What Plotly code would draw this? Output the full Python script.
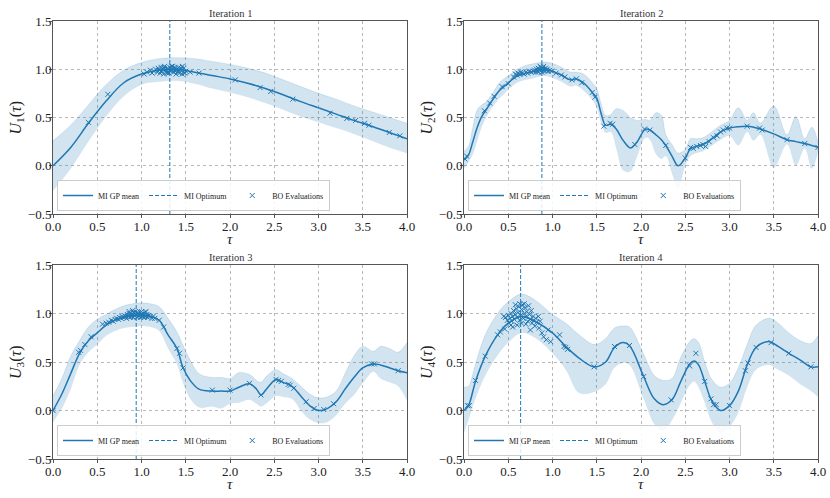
import plotly.graph_objects as go

blue = "#1f77b4"
band = "rgba(31,119,180,0.2)"
font = "Liberation Serif, DejaVu Serif, serif"

# iteration 1
tau1 = [0.0, 0.2, 0.4, 0.6, 0.8, 1.0, 1.2, 1.4, 1.6, 1.8, 2.0, 2.2, 2.4, 2.6, 2.8, 3.0, 3.2, 3.4, 3.6, 3.8, 4.0]
mean1 = [0.0, 0.19, 0.44, 0.67, 0.86, 0.95, 0.99, 1.0, 0.97, 0.935, 0.9, 0.855, 0.8, 0.735, 0.665, 0.6, 0.535, 0.47, 0.41, 0.345, 0.28]
upper1 = [0.26, 0.42, 0.63, 0.84, 0.99, 1.07, 1.11, 1.12, 1.11, 1.08, 1.05, 1.01, 0.96, 0.89, 0.82, 0.75, 0.69, 0.62, 0.56, 0.5, 0.44]
lower1 = [-0.26, -0.03, 0.25, 0.51, 0.72, 0.84, 0.87, 0.88, 0.85, 0.8, 0.76, 0.71, 0.65, 0.58, 0.51, 0.45, 0.39, 0.33, 0.26, 0.19, 0.13]
eval1 = [(0.4, 0.45), (0.62, 0.74), (1.03, 0.95), (1.06, 0.97), (1.1, 0.99), (1.12, 0.96), (1.14, 0.98),
         (1.16, 1.0), (1.18, 0.97), (1.19, 1.01), (1.2, 0.99), (1.21, 0.96), (1.22, 1.02), (1.23, 0.98),
         (1.24, 1.0), (1.25, 0.95), (1.26, 1.03), (1.27, 0.99), (1.28, 0.97), (1.29, 1.01), (1.3, 1.0),
         (1.31, 0.96), (1.32, 1.02), (1.33, 0.98), (1.34, 1.0), (1.35, 1.03), (1.36, 0.97), (1.37, 0.99),
         (1.38, 1.01), (1.39, 0.95), (1.4, 1.0), (1.41, 0.98), (1.42, 1.02), (1.43, 0.96), (1.44, 1.0),
         (1.45, 0.99), (1.46, 1.03), (1.47, 0.97), (1.48, 1.01), (1.49, 0.96), (1.5, 0.98), (1.22, 0.98),
         (1.26, 1.01), (1.3, 0.97), (1.34, 1.03), (1.38, 0.98), (1.42, 1.0), (1.46, 0.95), (1.25, 1.02),
         (1.29, 0.96), (1.33, 0.99), (1.37, 1.02), (1.41, 0.97), (1.45, 1.01), (1.55, 0.97), (1.65, 0.96),
         (2.06, 0.89), (2.34, 0.81), (2.46, 0.77), (2.71, 0.69), (3.13, 0.545), (3.32, 0.49), (3.42, 0.47),
         (3.52, 0.44), (3.57, 0.42), (3.8, 0.345), (3.92, 0.31)]

# iteration 2
tau2 = [0.0, 0.05, 0.1, 0.15, 0.2, 0.25, 0.3, 0.35, 0.4, 0.45, 0.5, 0.6, 0.7, 0.8, 0.9, 1.0, 1.1, 1.2, 1.27,
        1.35, 1.45, 1.5, 1.55, 1.6, 1.66, 1.72, 1.8, 1.88, 1.95, 2.05, 2.1, 2.17, 2.23, 2.28, 2.35, 2.42, 2.5,
        2.56, 2.62, 2.7, 2.8, 2.9, 3.0, 3.1, 3.2, 3.27, 3.35, 3.5, 3.65, 3.75, 3.85, 3.93, 4.0]
mean2 = [0.06, 0.11, 0.25, 0.4, 0.51, 0.58, 0.65, 0.72, 0.78, 0.82, 0.86, 0.93, 0.96, 0.98, 1.0, 0.98, 0.94,
         0.89, 0.9, 0.86, 0.76, 0.7, 0.54, 0.42, 0.43, 0.38, 0.26, 0.185, 0.24, 0.38, 0.37, 0.32, 0.27, 0.21,
         0.1, 0.0, 0.08, 0.18, 0.2, 0.22, 0.28, 0.35, 0.39, 0.405, 0.41, 0.4, 0.38, 0.33, 0.27, 0.25, 0.23,
         0.21, 0.19]
upper2 = [0.15, 0.2, 0.4, 0.58, 0.63, 0.66, 0.72, 0.79, 0.86, 0.9, 0.93, 1.0, 1.04, 1.06, 1.075, 1.06, 1.02,
          0.97, 0.97, 0.95, 0.86, 0.8, 0.64, 0.52, 0.53, 0.59, 0.57, 0.5, 0.47, 0.48, 0.47, 0.55, 0.52, 0.32,
          0.22, 0.13, 0.17, 0.28, 0.28, 0.29, 0.35, 0.42, 0.47, 0.6, 0.47, 0.55, 0.44, 0.62, 0.32, 0.51, 0.28,
          0.4, 0.24]
lower2 = [-0.03, 0.04, 0.12, 0.26, 0.4, 0.5, 0.58, 0.64, 0.7, 0.74, 0.79, 0.86, 0.89, 0.91, 0.93, 0.91, 0.87,
          0.82, 0.83, 0.78, 0.68, 0.6, 0.44, 0.34, 0.35, 0.18, -0.05, -0.06, 0.08, 0.29, 0.27, 0.12, 0.07, 0.1,
          -0.08, -0.23, 0.0, 0.1, 0.13, 0.15, 0.21, 0.27, 0.31, 0.21, 0.35, 0.26, 0.32, -0.02, 0.22, 0.0, 0.18,
          -0.03, 0.14]
eval2 = [(0.01, 0.07), (0.03, 0.1), (0.23, 0.57), (0.29, 0.65), (0.34, 0.72), (0.43, 0.82), (0.5, 0.85),
         (0.56, 0.92), (0.58, 0.95), (0.6, 0.94), (0.61, 0.96), (0.63, 0.95), (0.64, 0.97), (0.66, 0.96),
         (0.68, 0.95), (0.7, 0.97), (0.72, 0.96), (0.74, 0.98), (0.76, 0.97), (0.78, 0.98), (0.8, 0.99),
         (0.81, 0.97), (0.82, 1.0), (0.83, 0.98), (0.84, 1.01), (0.85, 0.99), (0.86, 1.0), (0.87, 1.02),
         (0.88, 0.99), (0.89, 1.01), (0.9, 1.0), (0.91, 0.98), (0.92, 1.01), (0.93, 0.99), (0.94, 1.0),
         (0.95, 0.98), (0.97, 0.99), (0.99, 0.98), (0.84, 0.97), (0.88, 0.97), (0.9, 1.03), (0.86, 1.03),
         (1.04, 0.96), (1.1, 0.94), (1.14, 0.92), (1.22, 0.89), (1.27, 0.9), (1.33, 0.86), (1.45, 0.76),
         (1.48, 0.71), (1.58, 0.41), (1.65, 0.44), (1.68, 0.43), (1.93, 0.22), (2.04, 0.38), (2.1, 0.37),
         (2.28, 0.21), (2.5, 0.08), (2.56, 0.19), (2.59, 0.18), (2.63, 0.2), (2.67, 0.21), (2.7, 0.22),
         (2.73, 0.2), (2.77, 0.25), (2.82, 0.29), (2.86, 0.31), (2.9, 0.35), (2.93, 0.37), (2.97, 0.39),
         (3.0, 0.39), (3.2, 0.41), (3.34, 0.39), (3.37, 0.37), (3.65, 0.27), (3.85, 0.23), (4.0, 0.19)]

# iteration 3
tau3 = [0.0, 0.1, 0.2, 0.3, 0.4, 0.5, 0.6, 0.7, 0.8, 0.9, 1.0, 1.1, 1.2, 1.3, 1.4, 1.47, 1.55, 1.65, 1.8,
        1.9, 2.0, 2.1, 2.22, 2.3, 2.35, 2.42, 2.52, 2.6, 2.7, 2.8, 2.9, 3.0, 3.1, 3.2, 3.3, 3.4, 3.5, 3.62,
        3.7, 3.8, 3.9, 4.0]
mean3 = [0.0, 0.17, 0.38, 0.59, 0.72, 0.8, 0.88, 0.93, 0.96, 0.98, 0.985, 0.97, 0.93, 0.78, 0.64, 0.44,
         0.31, 0.22, 0.2, 0.2, 0.2, 0.24, 0.275, 0.22, 0.16, 0.23, 0.32, 0.29, 0.25, 0.15, 0.05, 0.0, 0.02,
         0.09, 0.22, 0.34, 0.44, 0.48, 0.47, 0.44, 0.41, 0.39]
upper3 = [0.15, 0.33, 0.56, 0.72, 0.86, 0.94, 0.99, 1.04, 1.08, 1.1, 1.11, 1.1, 1.07, 0.95, 0.81, 0.67,
          0.52, 0.38, 0.34, 0.34, 0.33, 0.39, 0.37, 0.31, 0.29, 0.36, 0.42, 0.38, 0.33, 0.25, 0.17, 0.13, 0.14,
          0.2, 0.38, 0.56, 0.66, 0.61, 0.66, 0.64, 0.6, 0.7]
lower3 = [-0.12, 0.02, 0.22, 0.47, 0.6, 0.68, 0.77, 0.82, 0.85, 0.86, 0.87, 0.86, 0.82, 0.64, 0.48, 0.28,
          0.12, 0.03, 0.04, 0.02, 0.07, 0.08, 0.11, 0.07, 0.04, 0.08, 0.15, 0.14, 0.12, 0.0, -0.09, -0.13, -0.12,
          -0.05, 0.07, 0.16, 0.28, 0.4, 0.33, 0.29, 0.25, 0.1]
eval3 = [(0.0, 0.0), (0.29, 0.6), (0.31, 0.62), (0.36, 0.68), (0.43, 0.76), (0.56, 0.89), (0.6, 0.9),
         (0.63, 0.91), (0.66, 0.93), (0.68, 0.92), (0.7, 0.94), (0.72, 0.95), (0.74, 0.94), (0.75, 0.96),
         (0.77, 0.95), (0.78, 0.97), (0.8, 0.96), (0.81, 0.98), (0.82, 0.97), (0.84, 0.99), (0.85, 0.97),
         (0.86, 1.0), (0.87, 0.98), (0.88, 1.0), (0.89, 0.97), (0.9, 0.99), (0.91, 1.01), (0.92, 0.98),
         (0.93, 1.02), (0.94, 0.99), (0.95, 1.01), (0.96, 0.97), (0.97, 1.0), (0.98, 0.98), (0.99, 1.01),
         (1.0, 0.99), (1.01, 0.97), (1.02, 1.0), (1.03, 0.98), (1.04, 1.01), (1.05, 0.97), (1.06, 0.99),
         (1.07, 0.96), (1.08, 0.98), (1.1, 0.97), (1.12, 0.95), (1.13, 0.97), (1.15, 0.95), (0.83, 0.95),
         (0.87, 0.96), (0.91, 0.96), (0.95, 0.96), (0.99, 0.96), (1.03, 0.96), (0.86, 1.02), (0.9, 1.03),
         (1.0, 1.02), (1.05, 1.02), (1.2, 0.93), (1.25, 0.86), (1.4, 0.64), (1.43, 0.59), (1.47, 0.44),
         (1.8, 0.21), (2.0, 0.21), (2.22, 0.28), (2.35, 0.16), (2.52, 0.32), (2.55, 0.31), (2.58, 0.3),
         (2.66, 0.27), (2.68, 0.26), (2.72, 0.23), (2.86, 0.09), (2.95, 0.02), (3.06, 0.01), (3.17, 0.07),
         (3.6, 0.48), (3.63, 0.48), (3.9, 0.41)]

# iteration 4
tau4 = [0.0, 0.05, 0.13, 0.24, 0.38, 0.5, 0.65, 0.8, 1.0, 1.15, 1.3, 1.47, 1.6, 1.7, 1.8, 1.87, 2.03,
        2.15, 2.25, 2.35, 2.45, 2.55, 2.6, 2.65, 2.72, 2.8, 2.9, 3.0, 3.1, 3.2, 3.3, 3.45, 3.55, 3.67, 3.8,
        3.92, 4.0]
mean4 = [0.0, 0.05, 0.3, 0.56, 0.78, 0.9, 0.97, 0.92, 0.8, 0.66, 0.54, 0.45, 0.5, 0.65, 0.7, 0.67, 0.35,
         0.12, 0.06, 0.11, 0.3, 0.48, 0.51, 0.47, 0.3, 0.1, 0.0, 0.05, 0.2, 0.47, 0.65, 0.71, 0.66, 0.59,
         0.52, 0.45, 0.45]
upper4 = [0.24, 0.25, 0.48, 0.78, 1.0, 1.12, 1.2, 1.14, 0.99, 0.9, 0.78, 0.68, 0.74, 0.85, 0.87, 0.86, 0.58,
          0.36, 0.31, 0.33, 0.55, 0.71, 0.74, 0.7, 0.5, 0.32, 0.24, 0.28, 0.44, 0.68, 0.88, 0.95, 0.9, 0.8,
          0.72, 0.69, 0.77]
lower4 = [-0.23, -0.1, 0.12, 0.36, 0.57, 0.7, 0.8, 0.75, 0.59, 0.42, 0.18, 0.19, 0.27, 0.44, 0.49, 0.47, 0.12,
          -0.14, -0.21, -0.1, 0.08, 0.26, 0.3, 0.24, 0.08, -0.12, -0.23, -0.17, -0.02, 0.24, 0.42, 0.47, 0.42,
          0.36, 0.27, 0.2, 0.14]
eval4 = [(0.04, 0.05), (0.06, 0.05), (0.13, 0.31), (0.24, 0.56), (0.38, 0.78), (0.41, 0.81), (0.46, 0.84),
         (0.47, 0.96), (0.49, 0.93), (0.5, 0.98), (0.51, 0.9), (0.52, 0.95), (0.53, 1.0), (0.54, 0.92),
         (0.55, 0.97), (0.56, 1.03), (0.57, 0.94), (0.58, 0.99), (0.59, 1.05), (0.6, 0.96), (0.61, 1.01),
         (0.62, 1.07), (0.63, 0.93), (0.64, 0.98), (0.65, 1.04), (0.66, 1.09), (0.67, 0.95), (0.68, 1.0),
         (0.69, 1.06), (0.7, 0.97), (0.71, 1.02), (0.72, 0.92), (0.73, 1.08), (0.74, 0.99), (0.75, 0.94),
         (0.76, 1.03), (0.77, 0.9), (0.78, 0.97), (0.79, 0.93), (0.8, 0.87), (0.81, 0.95), (0.82, 0.91),
         (0.84, 0.97), (0.85, 0.85), (0.86, 0.92), (0.88, 0.8), (0.9, 0.76), (0.93, 0.73), (0.98, 0.71),
         (0.95, 0.83), (1.08, 0.78), (1.13, 0.66), (1.15, 0.65), (1.17, 0.63), (0.55, 0.86), (0.6, 0.88),
         (0.65, 0.9), (0.7, 0.89), (0.58, 1.09), (0.63, 1.1), (0.68, 1.1), (0.75, 0.83), (0.53, 0.88),
         (0.45, 0.97), (1.47, 0.45), (1.7, 0.66), (1.87, 0.67), (2.03, 0.35), (2.34, 0.11), (2.55, 0.46),
         (2.62, 0.59), (2.72, 0.3), (2.79, 0.12), (2.82, 0.06), (2.85, 0.06), (3.0, 0.05), (3.18, 0.41),
         (3.21, 0.49), (3.3, 0.65), (3.47, 0.7), (3.67, 0.59), (3.92, 0.45)]

optimum = [1.32, 0.88, 0.94, 0.64]
titles = ["Iteration 1", "Iteration 2", "Iteration 3", "Iteration 4"]

panels = [(tau1, mean1, upper1, lower1, eval1),
          (tau2, mean2, upper2, lower2, eval2),
          (tau3, mean3, upper3, lower3, eval3),
          (tau4, mean4, upper4, lower4, eval4)]

# axes boxes in pixels (left, right, top, bottom) of the 830x498 page
W, H = 830, 498
ML, MR, MT, MB = 53, 12, 21, 39
PW, PH = W - ML - MR, H - MT - MB
boxes = [(53, 407, 21, 214), (464, 818, 21, 214), (53, 407, 265, 459), (464, 818, 265, 459)]


def px(x):
    return (x - ML) / PW


def py(y):
    return (H - MB - y) / PH


fig = go.Figure()
for i, (tau, mean, upper, lower, ev) in enumerate(panels):
    k = "" if i == 0 else str(i + 1)
    xa, ya, lg = "x" + k, "y" + k, "legend" + k
    fig.add_trace(go.Scatter(x=tau, y=lower, mode="lines", line=dict(width=0, shape="spline", smoothing=1),
                             showlegend=False, hoverinfo="skip", xaxis=xa, yaxis=ya))
    fig.add_trace(go.Scatter(x=tau, y=upper, mode="lines", fill="tonexty", fillcolor=band,
                             line=dict(width=0.6, color="rgba(31,119,180,0.25)", shape="spline", smoothing=1),
                             showlegend=False, hoverinfo="skip", xaxis=xa, yaxis=ya))
    fig.add_trace(go.Scatter(x=tau, y=mean, mode="lines", name="MI GP mean",
                             line=dict(color=blue, width=1.5, shape="spline", smoothing=1),
                             legend=lg, xaxis=xa, yaxis=ya))
    fig.add_trace(go.Scatter(x=[optimum[i], optimum[i]], y=[-0.5, 1.5], mode="lines", name="MI Optimum",
                             line=dict(color=blue, width=1, dash="4px,2px"), legend=lg, xaxis=xa, yaxis=ya))
    fig.add_trace(go.Scatter(x=[p[0] for p in ev], y=[p[1] for p in ev], mode="markers", name="BO Evaluations",
                             marker=dict(symbol="x-thin", size=5, line=dict(color=blue, width=1)),
                             legend=lg, xaxis=xa, yaxis=ya))

    l, r, t, b = boxes[i]
    common = dict(showgrid=True, gridcolor="#b8b8b8", griddash="dot", gridwidth=0.8, zeroline=False,
                  showline=True, mirror=True, linecolor="#555555", linewidth=1, ticks="outside",
                  ticklen=3, tickcolor="#555555", tickfont=dict(size=13, color="#222"), tickformat=".1f",
                  dtick=0.5, automargin=False)
    fig.layout["xaxis" + k] = dict(domain=[px(l), px(r)], anchor=ya, range=[0, 4], tick0=0,
                                   ticklabelstandoff=-3, **common)
    fig.layout["yaxis" + k] = dict(domain=[py(b), py(t)], anchor=xa, range=[-0.5, 1.5], tick0=-0.5,
                                   ticklabelstandoff=-5, **common)
    fig.layout[lg] = dict(orientation="h", x=px(l + 4), xanchor="left", y=py(b - 3),
                          yanchor="bottom", traceorder="normal",
                          bgcolor="rgba(255,255,255,0.85)", bordercolor="#cccccc", borderwidth=1,
                          font=dict(size=8, color="#222"), itemwidth=30)
    fig.add_annotation(text=titles[i], xref="paper", yref="paper", x=px((l + r) / 2),
                       y=py(t), xanchor="center", yanchor="bottom", showarrow=False,
                       font=dict(size=10.5, color="#333"))
    fig.add_annotation(text="<i>τ</i>", xref="paper", yref="paper", x=px((l + r) / 2),
                       y=py(b + 25), xanchor="center", yanchor="middle", showarrow=False, borderpad=0,
                       font=dict(size=15, color="#222"))
    fig.add_annotation(text="<i>U</i><sub>%d</sub>(<i>τ</i>)" % (i + 1), xref="paper", yref="paper",
                       x=px(l - 37), y=py((t + b) / 2), xanchor="center", yanchor="middle",
                       textangle=-90, showarrow=False, font=dict(size=16, color="#222"))

fig.update_layout(width=W, height=H, margin=dict(l=ML, r=MR, t=MT, b=MB), plot_bgcolor="white",
                  paper_bgcolor="white", font=dict(family=font, color="#222"))
fig.write_html("out.html", config={"displayModeBar": False},
               post_script="document.body.style.margin='0px';")
